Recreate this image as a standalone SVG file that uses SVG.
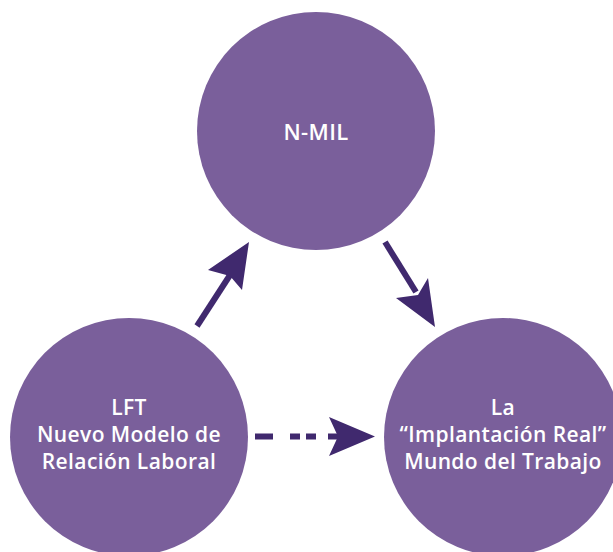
<svg xmlns="http://www.w3.org/2000/svg" width="613" height="552" viewBox="0 0 613 552">
<style>
.node{fill:#7a5f9b}
.lbl{fill:#ffffff;font-family:"Open Sans",Lato,"Liberation Sans",sans-serif;font-weight:600;font-size:21px;letter-spacing:0.4px;text-anchor:middle}
.edge{stroke:#40296e;stroke-width:6;fill:none}
.head{fill:#40296e}
</style>
<rect width="613" height="552" fill="#ffffff"/>
<g id="node-nmil">
<circle class="node" cx="316" cy="131" r="119"/>
<text class="lbl" x="316" y="140" style="font-size:22px">N-MIL</text>
</g>
<g id="node-lft">
<circle class="node" cx="129" cy="437" r="119"/>
<text class="lbl" x="129" y="415">LFT</text>
<text class="lbl" x="129" y="442">Nuevo Modelo de</text>
<text class="lbl" x="129" y="469">Relación Laboral</text>
</g>
<g id="node-real">
<circle class="node" cx="503" cy="437" r="119"/>
<text class="lbl" x="503" y="415">La</text>
<text class="lbl" x="503" y="442">“Implantación Real”</text>
<text class="lbl" x="503" y="469">Mundo del Trabajo</text>
</g>
<g id="connectors">
<line class="edge" x1="197" y1="326" x2="232" y2="272"/>
<polygon class="head" points="249,242 242,290 230,276 208,270"/>
<line class="edge" x1="385" y1="242" x2="416" y2="292"/>
<polygon class="head" points="435,327 396,298 418,295 428,278"/>
<line class="edge" x1="255" y1="436.5" x2="338" y2="436.5" stroke-dasharray="18 17 10 6 10 12 10"/>
<polygon class="head" points="375,436.5 329,417 338,436.5 329,456"/>
</g>
</svg>
